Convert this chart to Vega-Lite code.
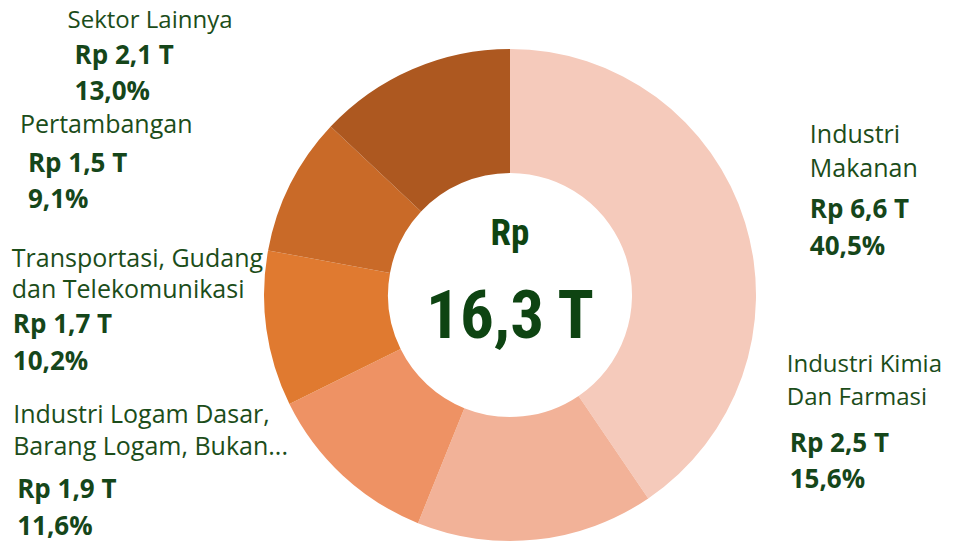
{
  "$schema": "https://vega.github.io/schema/vega-lite/v6.json",
  "width": 886,
  "height": 496,
  "autosize": "none",
  "padding": {"left": 67, "top": 47, "right": 0, "bottom": 0},
  "background": "white",
  "config": {"view": {"stroke": null}},
  "data": {
    "values": [
      {"no": 1, "sektor": "Industri Makanan", "nama": ["Industri", "Makanan"], "nilai": 6.6, "pct": 40.5},
      {"no": 2, "sektor": "Industri Kimia Dan Farmasi", "nama": ["Industri Kimia", "Dan Farmasi"], "nilai": 2.5, "pct": 15.6},
      {"no": 3, "sektor": "Industri Logam Dasar, Barang Logam, Bukan...", "nama": ["Industri Logam Dasar,", "Barang Logam, Bukan..."], "nilai": 1.9, "pct": 11.6},
      {"no": 4, "sektor": "Transportasi, Gudang dan Telekomunikasi", "nama": ["Transportasi, Gudang", "dan Telekomunikasi"], "nilai": 1.7, "pct": 10.2},
      {"no": 5, "sektor": "Pertambangan", "nama": ["Pertambangan"], "nilai": 1.5, "pct": 9.1},
      {"no": 6, "sektor": "Sektor Lainnya", "nama": ["Sektor Lainnya"], "nilai": 2.1, "pct": 13.0}
    ]
  },
  "layer": [
    {
      "transform": [
        {"stack": "pct", "groupby": [], "sort": [{"field": "no", "order": "ascending"}], "as": ["a0", "a1"]},
        {"calculate": "(datum.a0 + datum.a1) / 2", "as": "mid"},
        {"calculate": "['Rp ' + replace(format(datum.nilai, '.1f'), '.', ',') + ' T', replace(format(datum.pct, '.1f'), '.', ',') + '%']", "as": "nilaiLabel"}
      ],
      "layer": [
        {
          "mark": {"type": "arc", "innerRadius": 122, "outerRadius": 246},
          "encoding": {
            "theta": {"field": "a0", "type": "quantitative", "scale": {"domain": [0, 100]}},
            "theta2": {"field": "a1"},
            "color": {
              "field": "sektor", "type": "nominal", "legend": null,
              "scale": {
                "domain": ["Industri Makanan", "Industri Kimia Dan Farmasi", "Industri Logam Dasar, Barang Logam, Bukan...", "Transportasi, Gudang dan Telekomunikasi", "Pertambangan", "Sektor Lainnya"],
                "range": ["#F5CABB", "#F2B298", "#EE9264", "#E07A30", "#C96A28", "#AD5820"]
              }
            }
          }
        },
        {"transform": [{"filter": "datum.no === 1"}], "mark": {"type": "text", "radius": 185, "dx": 123, "dy": -98, "align": "left", "baseline": "alphabetic", "font": "Open Sans", "fontSize": 25, "fontWeight": 500, "lineHeight": 34, "color": "#1C4D1A"}, "encoding": {"theta": {"field": "mid", "type": "quantitative"}, "text": {"field": "nama"}}},
        {"transform": [{"filter": "datum.no === 1"}], "mark": {"type": "text", "radius": 185, "dx": 123, "dy": -23, "align": "left", "baseline": "alphabetic", "font": "Open Sans", "fontSize": 26, "fontWeight": "bold", "lineHeight": 37, "color": "#15461A"}, "encoding": {"theta": {"field": "mid", "type": "quantitative"}, "text": {"field": "nilaiLabel"}}},
        {"transform": [{"filter": "datum.no === 2"}], "mark": {"type": "text", "radius": 185, "dx": 257, "dy": -107, "align": "left", "baseline": "alphabetic", "font": "Open Sans", "fontSize": 24, "fontWeight": 500, "lineHeight": 33, "color": "#1C4D1A"}, "encoding": {"theta": {"field": "mid", "type": "quantitative"}, "text": {"field": "nama"}}},
        {"transform": [{"filter": "datum.no === 2"}], "mark": {"type": "text", "radius": 185, "dx": 260, "dy": -27, "align": "left", "baseline": "alphabetic", "font": "Open Sans", "fontSize": 26, "fontWeight": "bold", "lineHeight": 36, "color": "#15461A"}, "encoding": {"theta": {"field": "mid", "type": "quantitative"}, "text": {"field": "nilaiLabel"}}},
        {"transform": [{"filter": "datum.no === 3"}], "mark": {"type": "text", "radius": 185, "dx": -371, "dy": -8, "align": "left", "baseline": "alphabetic", "font": "Open Sans", "fontSize": 25, "fontWeight": 500, "lineHeight": 32, "color": "#1C4D1A"}, "encoding": {"theta": {"field": "mid", "type": "quantitative"}, "text": {"field": "nama"}}},
        {"transform": [{"filter": "datum.no === 3"}], "mark": {"type": "text", "radius": 185, "dx": -367, "dy": 67, "align": "left", "baseline": "alphabetic", "font": "Open Sans", "fontSize": 26, "fontWeight": "bold", "lineHeight": 37, "color": "#15461A"}, "encoding": {"theta": {"field": "mid", "type": "quantitative"}, "text": {"field": "nilaiLabel"}}},
        {"transform": [{"filter": "datum.no === 4"}], "mark": {"type": "text", "radius": 185, "dx": -315, "dy": -53, "align": "left", "baseline": "alphabetic", "font": "Open Sans", "fontSize": 25, "fontWeight": 500, "lineHeight": 31, "color": "#1C4D1A"}, "encoding": {"theta": {"field": "mid", "type": "quantitative"}, "text": {"field": "nama"}}},
        {"transform": [{"filter": "datum.no === 4"}], "mark": {"type": "text", "radius": 185, "dx": -314, "dy": 13, "align": "left", "baseline": "alphabetic", "font": "Open Sans", "fontSize": 26, "fontWeight": "bold", "lineHeight": 37, "color": "#15461A"}, "encoding": {"theta": {"field": "mid", "type": "quantitative"}, "text": {"field": "nilaiLabel"}}},
        {"transform": [{"filter": "datum.no === 5"}], "mark": {"type": "text", "radius": 185, "dx": -325, "dy": -79, "align": "left", "baseline": "alphabetic", "font": "Open Sans", "fontSize": 25, "fontWeight": 500, "lineHeight": 33, "color": "#1C4D1A"}, "encoding": {"theta": {"field": "mid", "type": "quantitative"}, "text": {"field": "nama"}}},
        {"transform": [{"filter": "datum.no === 5"}], "mark": {"type": "text", "radius": 185, "dx": -317, "dy": -40, "align": "left", "baseline": "alphabetic", "font": "Open Sans", "fontSize": 26, "fontWeight": "bold", "lineHeight": 36, "color": "#15461A"}, "encoding": {"theta": {"field": "mid", "type": "quantitative"}, "text": {"field": "nilaiLabel"}}},
        {"transform": [{"filter": "datum.no === 6"}], "mark": {"type": "text", "radius": 185, "dx": -369, "dy": -97, "align": "left", "baseline": "alphabetic", "font": "Open Sans", "fontSize": 24, "fontWeight": 500, "lineHeight": 33, "color": "#1C4D1A"}, "encoding": {"theta": {"field": "mid", "type": "quantitative"}, "text": {"field": "nama"}}},
        {"transform": [{"filter": "datum.no === 6"}], "mark": {"type": "text", "radius": 185, "dx": -362, "dy": -61, "align": "left", "baseline": "alphabetic", "font": "Open Sans", "fontSize": 26, "fontWeight": "bold", "lineHeight": 36, "color": "#15461A"}, "encoding": {"theta": {"field": "mid", "type": "quantitative"}, "text": {"field": "nilaiLabel"}}}
      ]
    },
    {
      "transform": [
        {"aggregate": [{"op": "sum", "field": "nilai", "as": "total"}]},
        {"calculate": "replace(format(datum.total, '.1f'), '.', ',') + ' T'", "as": "totalLabel"}
      ],
      "layer": [
        {"mark": {"type": "text", "text": "Rp", "dy": -50, "align": "center", "baseline": "alphabetic", "font": "Liberation Sans Narrow, Noto Sans Condensed, Roboto Condensed, DejaVu Sans Condensed", "fontWeight": "bold", "fontSize": 37, "color": "#0E4412"}, "encoding": {}},
        {"mark": {"type": "text", "dy": 43, "align": "center", "baseline": "alphabetic", "font": "Liberation Sans Narrow, Noto Sans Condensed, Roboto Condensed, DejaVu Sans Condensed", "fontWeight": "bold", "fontSize": 67, "color": "#0E4412"}, "encoding": {"text": {"field": "totalLabel"}}}
      ]
    }
  ]
}
